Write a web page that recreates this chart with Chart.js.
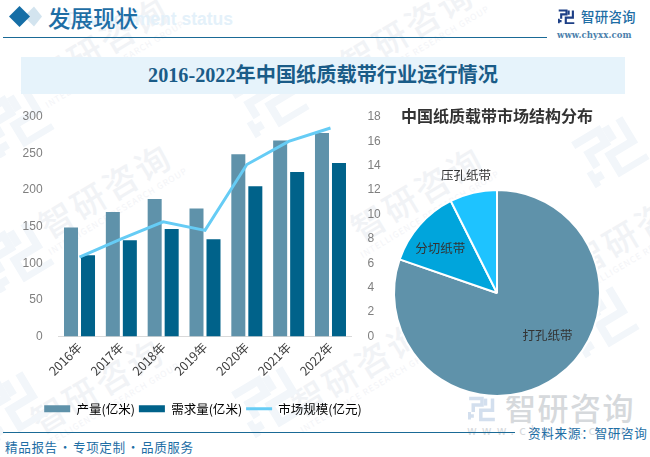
<!DOCTYPE html>
<html><head><meta charset="utf-8">
<script src="https://cdn.jsdelivr.net/npm/chart.js@4"></script>
<style>
html,body{margin:0;padding:0;background:#fff;width:650px;height:457px;overflow:hidden;font-family:"Noto Sans CJK SC","Noto Sans",sans-serif}
.a{position:absolute;white-space:nowrap}
.wm{position:absolute;transform:rotate(-31deg);transform-origin:center;text-align:center;color:#f1f3f6;white-space:nowrap;line-height:1}
.wm b{display:block;font-weight:500;font-size:34px;letter-spacing:3px}
.wm i{display:block;font-style:normal;font-size:8.5px;letter-spacing:1px;margin-top:3px;color:#f3f4f7}
svg.lg{position:absolute;transform:rotate(-31deg)}
canvas{display:block}
</style></head><body>
<svg width="0" height="0" style="position:absolute"><defs>
<g id="lg" fill="none" stroke-linecap="butt">
<path d="M2 4H24V15H9V27" stroke-width="6"/><path d="M2 34H10M2 27V40" stroke-width="6"/><path d="M42 4V24H22V40H46" stroke-width="6"/><path d="M30 4V16" stroke-width="6"/>
</g></defs></svg>
<div id="bg"></div>

<div class="a" style="left:0;width:233px;text-align:right;top:9px;font:bold 17.5px 'Liberation Sans';color:#e4f1fa">Development status</div>
<svg class="a" style="left:0;top:0" width="50" height="36"><polygon points="34,6.5 42,16.5 34,26.5 24,16.5" fill="#d3e4ef"/><polygon points="19.5,6 30,16.5 19.5,27 9,16.5" fill="#156ea6"/></svg>
<div class="a" style="left:48px;top:1px;font:500 22.5px/32px 'Noto Sans CJK SC';color:#1e6ea5">发展现状</div>
<div class="a" style="left:3px;top:37px;width:544px;height:1px;background:#1a6a96"></div>
<svg class="a" style="left:558px;top:9px" width="17" height="15" viewBox="0 0 48 42"><use href="#lg" stroke="#1d3f86"/></svg>
<div class="a" style="left:581px;top:6px;font:500 13.5px/20px 'Noto Sans CJK SC';letter-spacing:.2px;color:#1e6ea5">智研咨询</div>
<div class="a" style="left:557px;top:29px;font:bold 8.5px/12px 'DejaVu Serif';letter-spacing:.1px;color:#4a80ab">www.chyxx.com</div>
<div class="a" style="left:21px;top:57px;width:604px;height:37px;background:#e6f3fb"></div>
<div class="a" style="left:21px;top:57px;width:604px;line-height:37px;text-align:center;font-family:'Liberation Serif','Noto Sans CJK SC';font-weight:bold;font-size:20.2px;color:#1a5c88">2016-2022年中国纸质载带行业运行情况</div>

<svg class="a" style="left:468px;top:395px" width="28" height="27" viewBox="0 0 48 42"><use href="#lg" stroke="#d3dfee"/></svg>
<div class="a" style="left:505px;top:388px;font:500 31px/38px 'Noto Sans CJK SC';letter-spacing:1.5px;color:#d6d9dc">智研咨询</div>
<div class="a" style="left:467px;top:424px;font:12px/14px 'DejaVu Sans';letter-spacing:5px;color:#d6d9dc">www.chyxx.com</div>

<div class="a" style="left:0;top:100px;width:406px;height:330px"><canvas id="c1"></canvas></div>
<div class="a" style="left:386.5px;top:160px;width:220px;height:240px"><canvas id="c2"></canvas></div>
<div class="a" style="left:401px;top:103px;font:bold 16px/24px 'Noto Sans CJK SC';color:#333">中国纸质载带市场结构分布</div>

<div class="a" style="left:3px;top:432px;width:512px;height:1px;background:#1a6a96"></div>
<div class="a" style="left:528px;top:424px;font:12.6px/18px 'Noto Sans CJK SC';color:#1e6ea5;letter-spacing:.7px">资料来源：智研咨询</div>
<div class="a" style="left:5px;top:438px;font:12.6px/18px 'Noto Sans CJK SC';color:#1e6ea5;letter-spacing:.6px">精品报告<span style="margin:0 1px">·</span>专项定制<span style="margin:0 1px">·</span>品质服务</div>

<script>
const years = ["2016年","2017年","2018年","2019年","2020年","2021年","2022年"];
const output = [149,170,188,175,249,268,278];
const demand = [111,131.5,147,133,205.5,225,237];
const marketSize = [6.5,8.0,9.4,8.7,14.1,16.0,17.1];
const leftTicks = [0,50,100,150,200,250,300];
const rightTicks = [0,2,4,6,8,10,12,14,16,18];
const pieLabels = ["打孔纸带","分切纸带","压孔纸带"];
const pieShares = [80.3,12.3,7.4];

/* faint background watermarks */
const marks = [[105,50],[108,197],[100,392],[410,35],[420,200],[640,235],[360,375]];
const logos = [[15,120],[15,255],[10,405],[270,100],[270,400],[610,150],[600,320]];
const bg = document.getElementById('bg');
marks.forEach(([x,y])=>{
  const d=document.createElement('div');d.className='wm';
  d.style.left=(x-85)+'px';d.style.top=(y-25)+'px';d.style.width='170px';
  d.innerHTML='<b>智研咨询</b><i>INTELLIGENCE RESEARCH GROUP</i>';bg.appendChild(d);
});
logos.forEach(([x,y])=>{
  const s=document.createElementNS('http://www.w3.org/2000/svg','svg');
  s.setAttribute('class','lg');s.setAttribute('width','64');s.setAttribute('height','56');s.setAttribute('viewBox','0 0 48 42');
  s.style.left=(x-32)+'px';s.style.top=(y-28)+'px';
  s.innerHTML='<use href="#lg" stroke="#f2f6fa"/>';bg.appendChild(s);
});

const font = 'Noto Sans CJK SC';
new Chart(document.getElementById('c1'),{
  type:'bar',
  data:{labels:years,datasets:[
    {type:'line',label:'市场规模(亿元)',data:marketSize,yAxisID:'y2',borderColor:'#66ccf5',backgroundColor:'#66ccf5',borderWidth:3,pointRadius:0,tension:0,order:0},
    {label:'产量(亿米)',data:output,yAxisID:'y',backgroundColor:'#5f92aa',order:1,categoryPercentage:.813,barPercentage:.824},
    {label:'需求量(亿米)',data:demand,yAxisID:'y',backgroundColor:'#00628a',order:1,categoryPercentage:.813,barPercentage:.824}
  ]},
  options:{
    responsive:true,maintainAspectRatio:false,animation:false,
    layout:{padding:{top:17,left:0,right:0,bottom:5}},
    scales:{
      x:{grid:{display:false,drawTicks:false},border:{color:'#d9d9d9'},
         ticks:{maxRotation:45,minRotation:45,color:'#404040',padding:3,font:{family:font,size:12.5}},
         afterFit(s){s.height=62}},
      y:{position:'left',min:0,max:300,grid:{display:false},border:{display:false},
         afterBuildTicks(s){s.ticks=leftTicks.map(v=>({value:v}))},
         ticks:{color:'#7f7f7f',padding:8,font:{family:'Liberation Sans',size:12}},
         afterFit(s){s.width=58.6}},
      y2:{position:'right',min:0,max:18,grid:{display:false},border:{display:false},
         afterBuildTicks(s){s.ticks=rightTicks.map(v=>({value:v}))},
         ticks:{color:'#7f7f7f',padding:8,font:{family:'Liberation Sans',size:12}},
         afterFit(s){s.width=54.6}}
    },
    plugins:{tooltip:{enabled:false},legend:{position:'bottom',
      labels:{usePointStyle:true,pointStyleWidth:26,boxHeight:7,padding:4,color:'#404040',font:{family:font,size:12.5},
        generateLabels(ch){
          const order=[1,2,0];
          return order.map(i=>{const d=ch.data.datasets[i];return{
            text:d.label,datasetIndex:i,fillStyle:d.backgroundColor,strokeStyle:d.backgroundColor,
            lineWidth:i===0?3:0,pointStyle:i===0?'line':'rect',hidden:false};});
        }}}}
  }
});

const labelAnchors = [[0.49,0.41],[-0.55,-0.43],[-0.30,-1.14]];
new Chart(document.getElementById('c2'),{
  type:'pie',
  data:{labels:pieLabels,datasets:[{data:pieShares,backgroundColor:['#5f92aa','#00a5dc','#1ec3ff'],borderColor:'#fff',borderWidth:2}]},
  options:{responsive:true,maintainAspectRatio:false,animation:false,
    layout:{padding:{top:29,bottom:3,left:6,right:6}},
    plugins:{legend:{display:false},tooltip:{enabled:false}}},
  plugins:[{id:'sliceText',afterDatasetsDraw(ch){
    const c=ch.ctx,arcs=ch.getDatasetMeta(0).data;
    c.save();c.font='12.5px "Noto Sans CJK SC"';c.fillStyle='#333';c.textAlign='center';c.textBaseline='middle';
    arcs.forEach((a,i)=>{
      const t=ch.data.labels[i];
      c.fillText(t,a.x+labelAnchors[i][0]*a.outerRadius,a.y+labelAnchors[i][1]*a.outerRadius);
    });
    c.restore();
  }}]
});
</script>
</body></html>
